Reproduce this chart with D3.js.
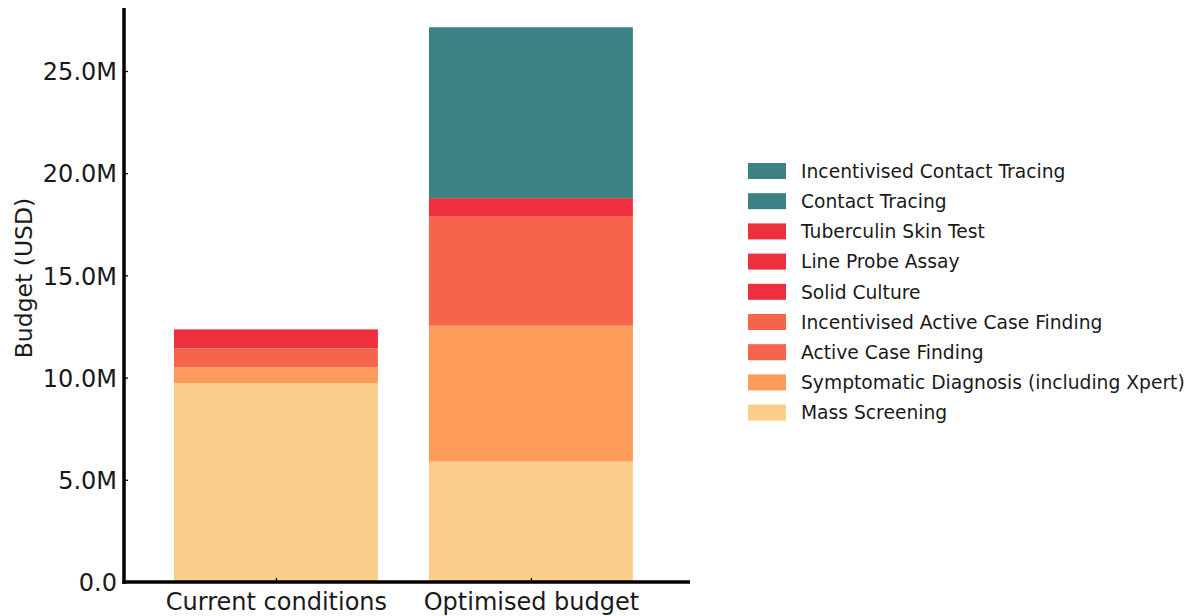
<!DOCTYPE html>
<html><head><meta charset="utf-8">
<script src="https://cdn.jsdelivr.net/npm/d3@7"></script>
<style>body{margin:0;background:#fff}svg{display:block}text{font-family:"DejaVu Sans",sans-serif;fill:#1a1a1a}</style>
</head><body><svg id="c" width="1190" height="616"></svg>
<script>
const categories = ["Current conditions", "Optimised budget"];
// stacking order bottom -> top
const seriesNames = ["Mass Screening","Symptomatic Diagnosis (including Xpert)","Active Case Finding","Incentivised Active Case Finding","Solid Culture","Line Probe Assay","Tuberculin Skin Test","Contact Tracing","Incentivised Contact Tracing"];
const seriesColors = ["#f9ce8a","#fd9c5a","#f5644b","#f5644b","#ee2f3e","#ee2f3e","#ee2f3e","#3c8184","#3c8184"];
// values in millions USD per category
const massScreening = [9.72, 5.89];
const symptomatic   = [0.78, 6.65];
const activeCase    = [0.93, 5.33];
const incActiveCase = [0, 0];
const solidCulture  = [0.93, 0.91];
const lineProbe     = [0, 0];
const tstTest       = [0, 0];
const contactTr     = [0, 8.36];
const incContactTr  = [0, 0];
const yTicks = [0, 5, 10, 15, 20, 25];

const seriesValues = [massScreening, symptomatic, activeCase, incActiveCase, solidCulture, lineProbe, tstTest, contactTr, incContactTr];
const table = categories.map((c,i)=>{const o={cat:c};seriesNames.forEach((s,j)=>o[s]=seriesValues[j][i]);return o;});
const stacked = d3.stack().keys(seriesNames)(table);

const svg = d3.select("#c");
const x = d3.scaleLinear().domain([-0.596, 1.624]).range([124, 690]);
const y = d3.scaleLinear().domain([0, 25]).range([582, 71]);
const bw = x(0.8) - x(0);

const g = svg.append("g");
stacked.forEach((layer,j)=>{
  g.selectAll(null).data(layer).enter().append("rect")
    .attr("x",(d,i)=>x(i)-bw/2).attr("width",bw)
    .attr("y",d=>y(d[1])).attr("height",d=>Math.max(0,y(d[0])-y(d[1])))
    .attr("fill",seriesColors[j]);
});

// y axis
const ya = svg.append("g").attr("transform","translate(124,0)")
  .call(d3.axisLeft(y).tickValues(yTicks).tickSize(-4).tickPadding(7).tickFormat(d=>d===0?"0.0":d.toFixed(1)+"M"));
ya.select(".domain").remove();
ya.selectAll("line").attr("stroke","#000").attr("stroke-width",1.3);
ya.selectAll("text").style("font-size","24px").attr("fill","#1a1a1a").attr("dy","0.36em");

const xa = svg.append("g").attr("transform","translate(0,582)")
  .call(d3.axisBottom(x).tickValues([0,1]).tickSize(-4).tickPadding(11).tickFormat((d,i)=>categories[i]));
xa.select(".domain").remove();
xa.selectAll("line").attr("stroke","#000").attr("stroke-width",1.3);
xa.selectAll("text").style("font-size","24px").attr("fill","#1a1a1a");

// spines
svg.append("line").attr("x1",124).attr("x2",124).attr("y1",8).attr("y2",583.7).attr("stroke","#000").attr("stroke-width",3.5);
svg.append("line").attr("x1",122.3).attr("x2",690).attr("y1",582).attr("y2",582).attr("stroke","#000").attr("stroke-width",3.5);

svg.append("text").attr("transform","translate(32,278) rotate(-90)").attr("text-anchor","middle")
  .style("font-size","23.5px").text("Budget (USD)");

// legend (reverse order)
const leg = svg.append("g");
const legItems = seriesNames.map((n,i)=>({n,c:seriesColors[i]})).reverse();
legItems.forEach((d,i)=>{
  const cy = 171 + i*30.2;
  leg.append("rect").attr("x",748).attr("y",cy-8).attr("width",38).attr("height",16).attr("fill",d.c);
  leg.append("text").attr("x",801).attr("y",cy).attr("dy","0.36em").style("font-size","18.7px").text(d.n);
});
</script></body></html>
